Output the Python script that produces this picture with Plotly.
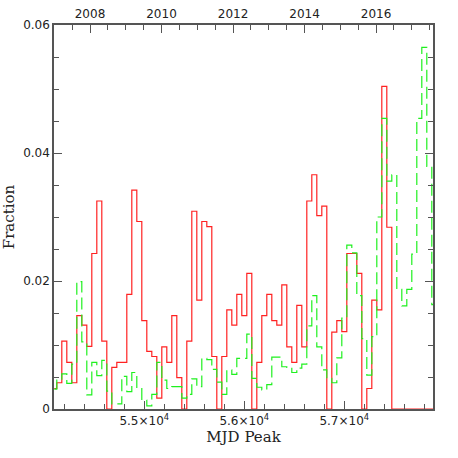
import plotly.graph_objects as go

# Bin centres (MJD), 50-day bins
mjd_start = 54100
bin_width = 50
red_frac = [
    0.0032, 0.0041, 0.0106, 0.0073, 0.0041, 0.0146, 0.0131, 0.0098, 0.0243, 0.0325,
    0.0106, 0.0, 0.0065, 0.0073, 0.0073, 0.0179, 0.0342, 0.0293, 0.0138, 0.0090,
    0.0082, 0.0017, 0.0097, 0.0073, 0.0146, 0.0049, 0.0, 0.0106, 0.0309, 0.0170,
    0.0293, 0.0285, 0.0082, 0.0, 0.0082, 0.0155, 0.0131, 0.0179, 0.0146, 0.0212,
    0.0, 0.0073, 0.0146, 0.0179, 0.0138, 0.0131, 0.0194, 0.0097, 0.0073, 0.0162,
    0.0097, 0.0325, 0.0366, 0.0302, 0.0317, 0.0, 0.0120, 0.0138, 0.0121, 0.0243,
    0.0243, 0.0212, 0.0, 0.0032, 0.0170, 0.0155, 0.0504, 0.0284, 0.0, 0.0,
    0.0, 0.0, 0.0, 0.0, 0.0, 0.0, 0.0,
]
green_frac = [
    0.0031, 0.0045, 0.0055, 0.0040, 0.0070, 0.0199, 0.0105, 0.0022, 0.0073, 0.0052,
    0.0076, 0.0028, 0.0008, 0.0008, 0.0051, 0.0027, 0.0057, 0.0032, 0.0014, 0.0005,
    0.0023, 0.0073, 0.0045, 0.0032, 0.0035, 0.0035, 0.0017, 0.0023, 0.0047, 0.0035,
    0.0079, 0.0077, 0.0062, 0.0042, 0.0023, 0.0061, 0.0054, 0.0079, 0.0079, 0.0117,
    0.0048, 0.0034, 0.0030, 0.0038, 0.0081, 0.0081, 0.0066, 0.0065, 0.0057, 0.0064,
    0.0070, 0.0130, 0.0177, 0.0097, 0.0061, 0.0048, 0.0041, 0.0080, 0.0142, 0.0256,
    0.0244, 0.0177, 0.0110, 0.0053, 0.0113, 0.0300, 0.0454, 0.0356, 0.0366, 0.0187,
    0.0161, 0.0187, 0.0242, 0.0454, 0.0565, 0.0379, 0.0163,
]
mjd_centres = [mjd_start + bin_width * i for i in range(len(red_frac))]

x_tick_vals = [55000, 56000, 57000]
x_tick_text = ["5.5×10<sup>4</sup>", "5.6×10<sup>4</sup>", "5.7×10<sup>4</sup>"]
year_ticks = [2008, 2010, 2012, 2014, 2016]

AX = "#555555"
TICKFONT = dict(family="DejaVu Sans", size=12, color="#222222")
TITLEFONT = dict(family="DejaVu Serif", size=15, color="#222222")

fig = go.Figure()
fig.add_trace(go.Scatter(
    x=mjd_centres, y=red_frac, mode="lines", line_shape="hvh",
    line=dict(color="#ff2222", width=1.2), showlegend=False, hoverinfo="skip"))
fig.add_trace(go.Scatter(
    x=mjd_centres, y=green_frac, mode="lines", line_shape="hvh",
    line=dict(color="#1ff01f", width=1.2, dash="12px,5px"), showlegend=False,
    hoverinfo="skip"))
# invisible trace so the top (year) axis is drawn
fig.add_trace(go.Scatter(
    x=year_ticks, y=[0] * len(year_ticks), xaxis="x2", mode="lines",
    line=dict(width=0), opacity=0, showlegend=False, hoverinfo="skip"))

fig.update_layout(
    width=458, height=458,
    margin=dict(l=54, r=25, t=25, b=49, autoexpand=False),
    plot_bgcolor="white", paper_bgcolor="white",
    showlegend=False,
    xaxis=dict(
        range=[54097, 57887], showgrid=False, zeroline=False,
        showline=True, linecolor=AX, linewidth=1.5, mirror=False,
        tickmode="array", tickvals=x_tick_vals, ticktext=x_tick_text,
        ticks="inside", ticklen=8, tickcolor=AX, tickwidth=1.2,
        minor=dict(tickmode="linear", tick0=54000, dtick=200, ticks="inside",
                   ticklen=5, tickcolor=AX, tickwidth=1.2),
        tickfont=TICKFONT,
        title=dict(text="MJD Peak", font=TITLEFONT, standoff=1),
    ),
    xaxis2=dict(
        overlaying="x", side="top", anchor="y",
        range=[2006.993, 2017.594], showgrid=False, zeroline=False,
        showline=True, linecolor=AX, linewidth=1.5,
        tickmode="array", tickvals=year_ticks,
        ticks="inside", ticklen=8, tickcolor=AX, tickwidth=1.2,
        minor=dict(tickmode="linear", tick0=2007, dtick=0.5, ticks="inside",
                   ticklen=5, tickcolor=AX, tickwidth=1.2),
        tickfont=TICKFONT,
    ),
    yaxis=dict(
        range=[0, 0.06], showgrid=False, zeroline=False,
        showline=True, linecolor=AX, linewidth=1.5, mirror="ticks",
        tickmode="linear", tick0=0, dtick=0.02,
        ticks="inside", ticklen=8, tickcolor=AX, tickwidth=1.2,
        minor=dict(dtick=0.005, ticks="inside", ticklen=5, tickcolor=AX,
                   tickwidth=1.2),
        tickfont=TICKFONT,
        title=dict(text="Fraction", font=TITLEFONT, standoff=5),
    ),
)

fig.write_html("out.html", config={"displayModeBar": False},
               post_script="document.body.style.margin='0';")
